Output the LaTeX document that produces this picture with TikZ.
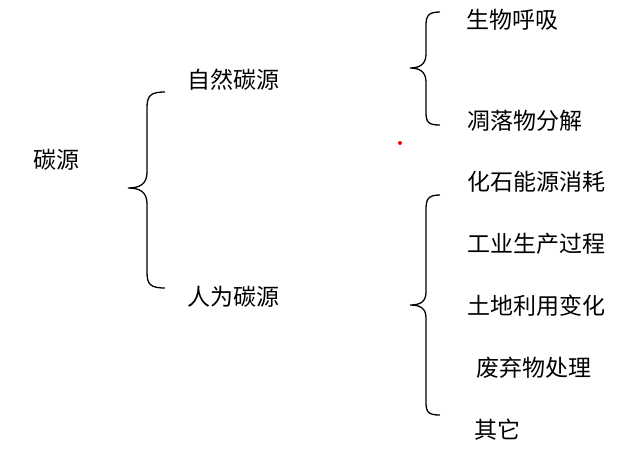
\documentclass[tikz,border=0pt]{standalone}
\usepackage{fontspec}
\newfontfamily\cjk{Noto Sans CJK SC}
\begin{document}
\begin{tikzpicture}[x=1pt,y=-1pt,
 lbl/.style={font=\cjk\fontsize{23}{23}\selectfont,inner sep=0pt},
 brace/.style={line width=1.3pt}]
\useasboundingbox (0,0) rectangle (640,456);
\node[lbl] (c) at (56,160) {碳源};
\node[lbl] (n) at (233,80) {自然碳源};
\node[lbl] (h) at (233,297) {人为碳源};
\node[lbl] (a1) at (512,20) {生物呼吸};
\node[lbl] (a2) at (525,121) {凋落物分解};
\node[lbl] (b1) at (536,182) {化石能源消耗};
\node[lbl] (b2) at (536,244) {工业生产过程};
\node[lbl] (b3) at (536,306) {土地利用变化};
\node[lbl] (b4) at (534,368) {废弃物处理};
\node[lbl] (b5) at (497,430) {其它};
% braces
\draw[brace] (165,92) .. controls (150,92) and (147,96) .. (147,108) -- (147,172) .. controls (147,184) and (140,188) .. (128,188) .. controls (140,188) and (147,192) .. (147,204) -- (147,272) .. controls (147,284) and (150,288) .. (165,288);
\draw[brace] (440,12) .. controls (428,12) and (426,16) .. (426,26) -- (426,54) .. controls (426,64) and (420,68) .. (410,68) .. controls (420,68) and (426,72) .. (426,82) -- (426,112) .. controls (426,122) and (428,125) .. (440,125);
\draw[brace] (440,195) .. controls (428,195) and (426,199) .. (426,210) -- (426,292) .. controls (426,302) and (420,305) .. (410,305) .. controls (420,305) and (426,308) .. (426,318) -- (426,402) .. controls (426,412) and (428,415) .. (440,415);
\fill[red] (400,143) circle (2);
\end{tikzpicture}
\end{document}
